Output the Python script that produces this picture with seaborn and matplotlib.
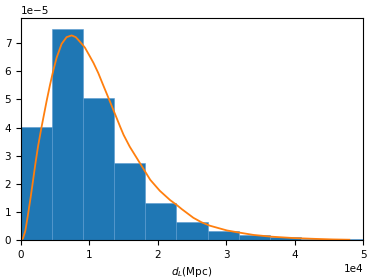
import numpy as np
import pandas as pd
import matplotlib
matplotlib.use("Agg")
import matplotlib.pyplot as plt
import seaborn as sns

# Histogram bins (Mpc) and bar heights (density)
bin_edges = list(np.linspace(0, 50000, 12))
bin_heights = [4.03e-5, 7.50e-5, 5.04e-5, 2.73e-5, 1.33e-5, 0.63e-5,
               0.32e-5, 0.17e-5, 0.09e-5, 0.05e-5, 0.03e-5]

# Orange model curve (x in Mpc, y in 1e-5)
curve_x = [0, 290, 630, 1020, 1410, 1750, 2100, 2490, 2980, 3260, 3750,
           4240, 4730, 5210, 5940, 6670, 7410, 8000, 8380, 9100, 9360,
           10100, 10600, 11300, 12000, 13000, 13500, 14500, 15000, 15900,
           17400, 18900, 20300, 21800, 22800, 23500, 25200, 26400, 27600,
           30100, 31500, 34000, 36500, 39800, 43000, 45600, 48000]
curve_y = [0, 0.06, 0.32, 0.90, 1.52, 2.10, 2.71, 3.33, 3.99, 4.34, 4.95,
           5.52, 6.04, 6.49, 6.98, 7.22, 7.28, 7.22, 7.12, 6.92, 6.84,
           6.52, 6.30, 5.94, 5.52, 4.93, 4.63, 4.03, 3.74, 3.32,
           2.73, 2.14, 1.75, 1.42, 1.24, 1.10, 0.79, 0.63, 0.51,
           0.34, 0.28, 0.18, 0.12, 0.07, 0.04, 0.02, 0.01]

centers = [(a + b) / 2 for a, b in zip(bin_edges[:-1], bin_edges[1:])]
hist_df = pd.DataFrame({"dL": centers, "w": bin_heights})
curve_df = pd.DataFrame({"dL": curve_x, "p": [v * 1e-5 for v in curve_y]})

plt.rcParams["font.size"] = 7.5
fig = plt.figure(figsize=(3.74, 2.8), dpi=100)
ax = fig.add_axes([21 / 374, 40 / 280, 342 / 374, 222 / 280])

# bars with a faint lighter seam between them, like plain plt.hist
sns.histplot(data=hist_df, x="dL", weights="w", bins=bin_edges,
             color="#1f77b4", alpha=1, edgecolor="#5a9bd0", linewidth=0.4,
             ax=ax)
sns.lineplot(data=curve_df, x="dL", y="p", color="#ff7f0e",
             linewidth=1.3, ax=ax)

ax.set_xlim(0, 50000)
ax.set_ylim(0, 7.9e-5)
ax.ticklabel_format(axis="both", style="sci", scilimits=(0, 0))
ax.set_xlabel("$d_L$(Mpc)")
ax.set_ylabel("")

fig.savefig("out.png", dpi=100)
